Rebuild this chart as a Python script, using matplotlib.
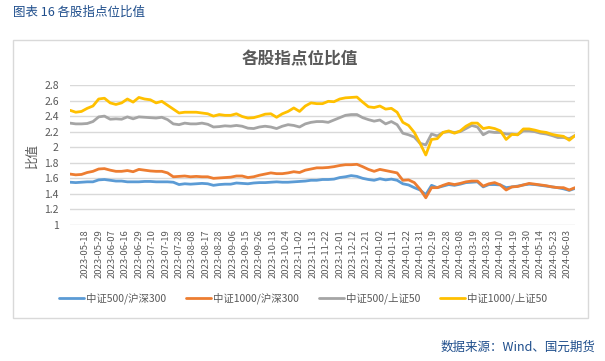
import numpy as np
import matplotlib
matplotlib.use('Agg')
import matplotlib.pyplot as plt
from matplotlib.patches import Rectangle

plt.rcParams['font.family'] = ['Noto Sans CJK SC', 'DejaVu Sans']

# one point every 3 trading days, starting a few days before 2023-05-18
step = 3
zz500_hs300 = [1.55, 1.545, 1.55, 1.555, 1.555, 1.58, 1.585, 1.575, 1.565, 1.565, 1.555,
               1.555, 1.555, 1.56, 1.56, 1.555, 1.555, 1.555, 1.55, 1.52, 1.53, 1.525,
               1.53, 1.535, 1.53, 1.51, 1.52, 1.525, 1.525, 1.54, 1.535, 1.53, 1.54,
               1.545, 1.545, 1.55, 1.555, 1.55, 1.55, 1.555, 1.56, 1.565, 1.575, 1.575,
               1.585, 1.585, 1.59, 1.61, 1.62, 1.635, 1.625, 1.60, 1.585, 1.575, 1.595,
               1.58, 1.59, 1.575, 1.53, 1.515, 1.48, 1.45, 1.39, 1.51, 1.48, 1.50,
               1.52, 1.51, 1.525, 1.545, 1.55, 1.555, 1.49, 1.52, 1.52, 1.515, 1.48,
               1.49, 1.50, 1.515, 1.525, 1.52, 1.51, 1.50, 1.49, 1.48, 1.465, 1.445, 1.47]
zz1000_hs300 = [1.655, 1.645, 1.65, 1.675, 1.69, 1.72, 1.725, 1.705, 1.69, 1.69, 1.70,
                1.685, 1.715, 1.705, 1.695, 1.69, 1.69, 1.67, 1.62, 1.625, 1.63, 1.62,
                1.625, 1.62, 1.62, 1.60, 1.605, 1.61, 1.615, 1.63, 1.63, 1.61, 1.62,
                1.64, 1.655, 1.67, 1.66, 1.66, 1.67, 1.685, 1.675, 1.705, 1.72, 1.735,
                1.735, 1.74, 1.75, 1.765, 1.775, 1.775, 1.78, 1.75, 1.715, 1.69, 1.715,
                1.70, 1.685, 1.67, 1.575, 1.58, 1.545, 1.46, 1.35, 1.48, 1.48, 1.51,
                1.535, 1.52, 1.535, 1.555, 1.565, 1.565, 1.50, 1.53, 1.545, 1.515, 1.45,
                1.49, 1.495, 1.515, 1.535, 1.525, 1.515, 1.505, 1.49, 1.48, 1.48, 1.45, 1.48]
zz500_sz50 = [2.31, 2.30, 2.30, 2.305, 2.33, 2.39, 2.40, 2.36, 2.365, 2.36, 2.39,
              2.365, 2.39, 2.385, 2.38, 2.375, 2.385, 2.355, 2.30, 2.29, 2.31, 2.30,
              2.30, 2.31, 2.295, 2.26, 2.265, 2.275, 2.27, 2.28, 2.27, 2.245, 2.24,
              2.26, 2.27, 2.26, 2.24, 2.27, 2.29, 2.28, 2.26, 2.30, 2.32, 2.33,
              2.33, 2.32, 2.35, 2.38, 2.41, 2.42, 2.42, 2.38, 2.355, 2.335, 2.35,
              2.30, 2.33, 2.29, 2.18, 2.16, 2.13, 2.05, 2.03, 2.17, 2.145, 2.19,
              2.20, 2.19, 2.20, 2.24, 2.28, 2.26, 2.16, 2.20, 2.19, 2.19, 2.17,
              2.17, 2.16, 2.21, 2.21, 2.20, 2.18, 2.17, 2.15, 2.125, 2.125, 2.11, 2.15]
zz1000_sz50 = [2.475, 2.45, 2.46, 2.50, 2.53, 2.62, 2.63, 2.57, 2.55, 2.57, 2.62,
               2.58, 2.64, 2.62, 2.61, 2.57, 2.59, 2.54, 2.49, 2.44, 2.45, 2.45,
               2.45, 2.44, 2.43, 2.40, 2.42, 2.41, 2.41, 2.43, 2.395, 2.375, 2.38,
               2.40, 2.425, 2.43, 2.385, 2.43, 2.46, 2.505, 2.46, 2.53, 2.57, 2.56,
               2.56, 2.59, 2.585, 2.62, 2.635, 2.64, 2.645, 2.58, 2.52, 2.51, 2.53,
               2.49, 2.50, 2.45, 2.32, 2.28, 2.19, 2.05, 1.90, 2.10, 2.11, 2.19,
               2.21, 2.18, 2.21, 2.27, 2.31, 2.31, 2.24, 2.255, 2.24, 2.21, 2.10,
               2.165, 2.16, 2.235, 2.235, 2.22, 2.20, 2.19, 2.165, 2.15, 2.14, 2.09, 2.15]

tick_labels = ['2023-05-18', '2023-05-29', '2023-06-07', '2023-06-16', '2023-06-29',
               '2023-07-10', '2023-07-19', '2023-07-28', '2023-08-08', '2023-08-17',
               '2023-08-28', '2023-09-06', '2023-09-15', '2023-09-26', '2023-10-13',
               '2023-10-24', '2023-11-02', '2023-11-13', '2023-11-22', '2023-12-01',
               '2023-12-12', '2023-12-21', '2024-01-02', '2024-01-11', '2024-01-22',
               '2024-01-31', '2024-02-19', '2024-02-28', '2024-03-08', '2024-03-19',
               '2024-03-28', '2024-04-10', '2024-04-19', '2024-04-30', '2024-05-14',
               '2024-05-23', '2024-06-03']
first_label_day = 8
label_every = 7

series = [
    ('中证500/沪深300', zz500_hs300, '#5B9BD5'),
    ('中证1000/沪深300', zz1000_hs300, '#ED7D31'),
    ('中证500/上证50', zz500_sz50, '#A5A5A5'),
    ('中证1000/上证50', zz1000_sz50, '#FFC000'),
]

W, H = 605, 361
fig = plt.figure(figsize=(W / 100, H / 100), dpi=100)

def fx(px):
    return px / W

def fy(py):
    return 1 - py / H

# outer chart frame
fig.add_artist(Rectangle((fx(13), fy(318)), fx(588) - fx(13), fy(40) - fy(318),
                         transform=fig.transFigure, fill=False, edgecolor='#D9D9D9', lw=1))

ax = fig.add_axes([fx(70), fy(225), fx(575) - fx(70), fy(85) - fy(225)])

n = len(zz500_hs300)
days = np.arange(n) * step
for name, vals, col in series:
    ax.plot(days, vals, color=col, lw=2.0, label=name, solid_capstyle='round')

ax.set_xlim(0, days[-1])
ax.set_ylim(1, 2.8)
yt = np.arange(1, 2.81, 0.2)
ax.set_yticks(yt)
ax.set_yticklabels(['1', '1.2', '1.4', '1.6', '1.8', '2', '2.2', '2.4', '2.6', '2.8'])
ax.set_xticks(first_label_day + label_every * np.arange(len(tick_labels)))
ax.set_xticklabels(tick_labels, rotation=90)
ax.tick_params(axis='both', length=0, colors='#595959', labelsize=7.5)
ax.tick_params(axis='x', labelsize=6.8, pad=3)
ax.tick_params(axis='y', pad=8)
ax.grid(axis='y', color='#D9D9D9', lw=1)
ax.set_axisbelow(True)
for s in ax.spines.values():
    s.set_visible(False)
ax.set_ylabel('比值', color='#595959', fontsize=9, labelpad=4)

fig.text(fx(300), fy(59), '各股指点位比值', ha='center', va='center',
         fontsize=12, fontweight='bold', color='#595959')
fig.text(fx(13), fy(12), '图表 16 各股指点位比值', ha='left', va='center',
         fontsize=9, color='#1F4E8C')
fig.text(fx(595), fy(347), '数据来源：Wind、国元期货', ha='right', va='center',
         fontsize=9, color='#1F4E8C')

fig.legend(loc='center', bbox_to_anchor=(fx(303), fy(298)), ncol=4, frameon=False,
           fontsize=7.5, handlelength=2.4, columnspacing=1.9, handletextpad=0.2,
           labelcolor='#595959')

fig.savefig('out.png', dpi=100)
